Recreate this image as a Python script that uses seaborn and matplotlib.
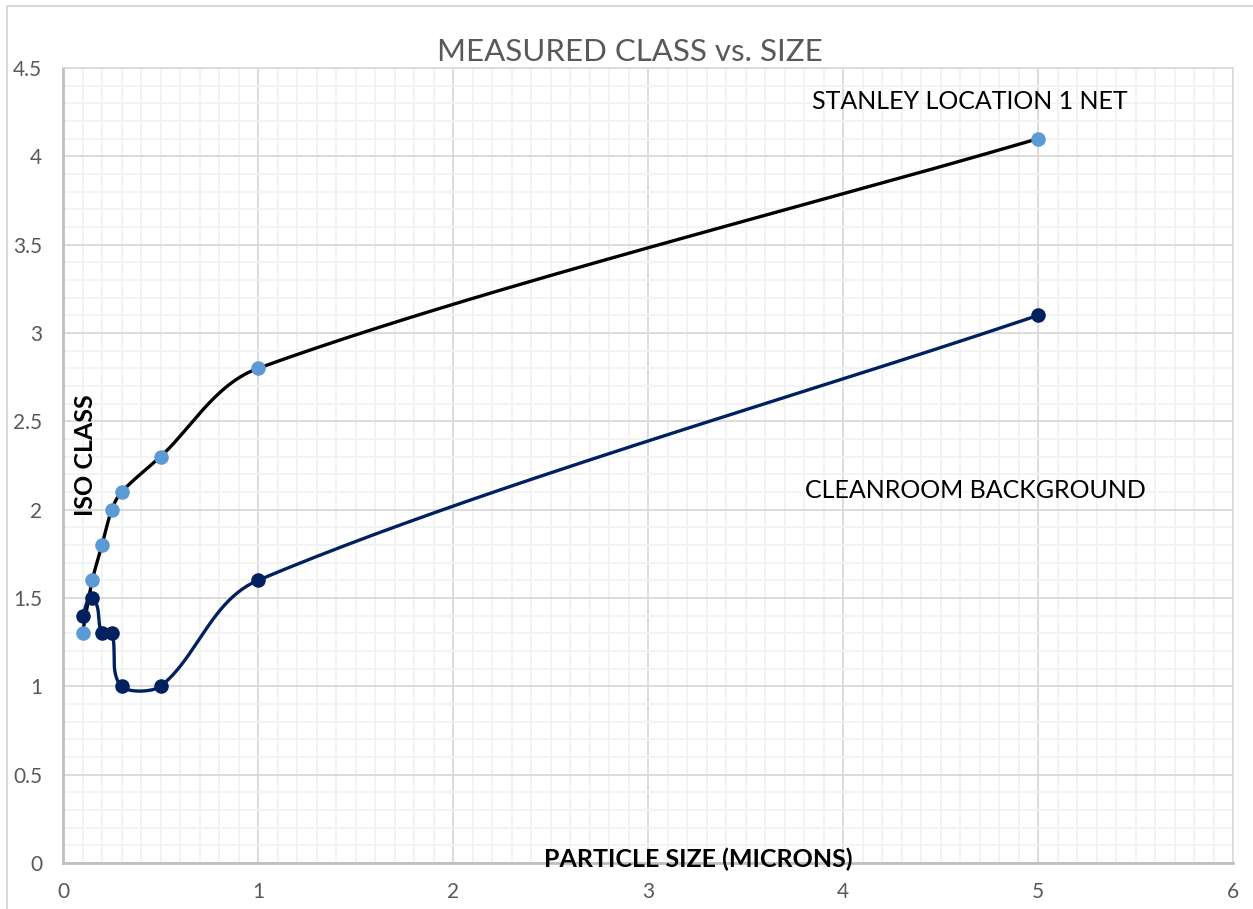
import numpy as np
import pandas as pd
import matplotlib
matplotlib.use("Agg")
import matplotlib.pyplot as plt
from matplotlib.patches import Rectangle
from matplotlib.ticker import MultipleLocator
import seaborn as sns

# ---- data ----
particle_size = [0.1, 0.15, 0.2, 0.25, 0.3, 0.5, 1, 5]
stanley_net = [1.3, 1.6, 1.8, 2.0, 2.1, 2.3, 2.8, 4.1]
cleanroom_bg = [1.4, 1.5, 1.3, 1.3, 1.0, 1.0, 1.6, 3.1]
x_ticks = [0, 1, 2, 3, 4, 5, 6]
y_ticks = [0, 0.5, 1, 1.5, 2, 2.5, 3, 3.5, 4, 4.5]

sns.set_theme(style="white")
plt.rcParams['font.family'] = ['Lato', 'DejaVu Sans']

W, H = 1253, 909
fig = plt.figure(figsize=(W / 100, H / 100), dpi=100)
ax = fig.add_axes([63 / W, 1 - 863 / H, (1233 - 63) / W, (863 - 68) / H])


def smooth(xs, ys, n=50, k=0.3):
    """Excel-like smoothed line: Bezier with tangent direction from neighbours,
    control length proportional to the segment length (normalised axes space)."""
    sx, sy = 1 / 6.0, 1 / 4.5
    P = np.column_stack([np.asarray(xs) * sx, np.asarray(ys) * sy])
    out = []
    for i in range(len(P) - 1):
        p0 = P[i - 1] if i > 0 else P[i]
        p1, p2 = P[i], P[i + 1]
        p3 = P[i + 2] if i + 2 < len(P) else P[i + 1]
        d = np.linalg.norm(p2 - p1)
        t1 = p2 - p0
        t2 = p3 - p1
        t1 = t1 / np.linalg.norm(t1)
        t2 = t2 / np.linalg.norm(t2)
        c1 = p1 + t1 * d * k
        c2 = p2 - t2 * d * k
        t = np.linspace(0, 1, n)[:, None]
        seg = ((1 - t) ** 3) * p1 + 3 * ((1 - t) ** 2) * t * c1 + 3 * (1 - t) * t ** 2 * c2 + t ** 3 * p2
        out.append(seg if i == 0 else seg[1:])
    S = np.vstack(out)
    return S[:, 0] / sx, S[:, 1] / sy


series = [
    ("STANLEY LOCATION 1 NET", stanley_net, "#000000", "#5B9BD5"),
    ("CLEANROOM BACKGROUND", cleanroom_bg, "#002060", "#002060"),
]
for name, vals, lc, mc in series:
    cx, cy = smooth(particle_size, vals)
    sns.lineplot(x=cx, y=cy, sort=False, estimator=None, color=lc, linewidth=2.4, ax=ax, zorder=3)
    sns.scatterplot(x=particle_size, y=vals, color=mc, s=110, edgecolor=mc, linewidth=0, ax=ax, zorder=4)

ax.set_xlim(0, 6)
ax.set_ylim(0, 4.5)
ax.set_xticks(x_ticks)
ax.set_yticks(y_ticks)
ax.set_xticklabels([str(v) for v in x_ticks])
ax.set_yticklabels([f"{v:g}" for v in y_ticks])
ax.xaxis.set_minor_locator(MultipleLocator(0.1))
ax.yaxis.set_minor_locator(MultipleLocator(0.1))
ax.grid(which="major", color="#D9D9D9", linewidth=1.3)
ax.grid(which="minor", color="#F2F2F2", linewidth=1.3)
ax.set_axisbelow(True)
ax.tick_params(which="both", length=0)
ax.tick_params(axis="x", pad=14, labelsize=15, labelcolor="#595959")
ax.tick_params(axis="y", pad=15, labelsize=15, labelcolor="#595959")
for s in ["left", "bottom"]:
    ax.spines[s].set_color("#BFBFBF")
    ax.spines[s].set_linewidth(2)
for s in ["top", "right"]:
    ax.spines[s].set_color("#D9D9D9")
    ax.spines[s].set_linewidth(1.2)
ax.set_xlabel("")
ax.set_ylabel("")

ax.text(0.543, 0.005, "PARTICLE SIZE (MICRONS)", transform=ax.transAxes, ha="center", va="center",
        fontsize=18, fontweight="bold", color="black", zorder=6)
ax.text(0.019, 0.513, "ISO CLASS", transform=ax.transAxes, ha="center", va="center", rotation=90,
        fontsize=18, fontweight="bold", color="black", zorder=6)
ax.text(4.65, 4.31, "STANLEY LOCATION 1 NET", ha="center", va="center", fontsize=18, color="black")
ax.text(4.68, 2.11, "CLEANROOM BACKGROUND", ha="center", va="center", fontsize=18, color="black")

fig.text(630 / W, 1 - 52 / H, "MEASURED CLASS vs. SIZE", ha="center", va="center", fontsize=22.5, color="#595959")

fig.patches.append(Rectangle((7 / W, -0.1), 1.2, 1 - 6 / H + 0.1, transform=fig.transFigure,
                             fill=False, edgecolor="#D9D9D9", linewidth=1.5))

fig.savefig("out.png", dpi=100)
